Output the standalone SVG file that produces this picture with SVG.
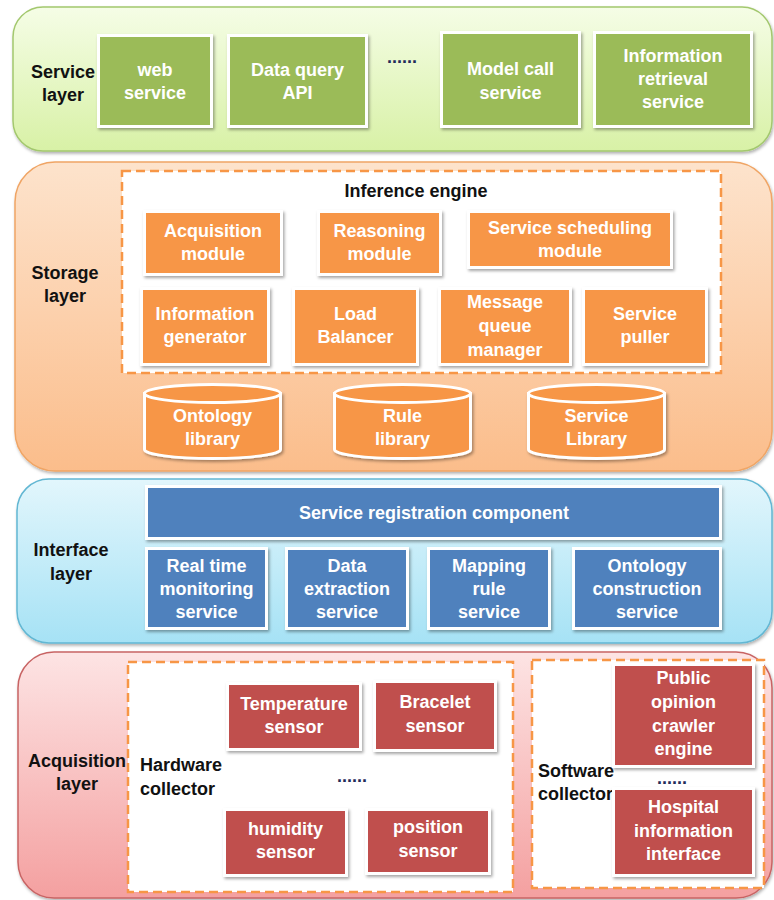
<svg xmlns="http://www.w3.org/2000/svg" width="774" height="900" viewBox="0 0 774 900">
  <defs>
    <linearGradient id="gService" x1="0" y1="0" x2="0" y2="1">
      <stop offset="0" stop-color="#f5fde6"/>
      <stop offset="1" stop-color="#d8f1a6"/>
    </linearGradient>
    <linearGradient id="gStorage" x1="0" y1="0" x2="0" y2="1">
      <stop offset="0" stop-color="#fde3cc"/>
      <stop offset="1" stop-color="#fbbd8b"/>
    </linearGradient>
    <linearGradient id="gInterface" x1="0" y1="0" x2="0" y2="1">
      <stop offset="0" stop-color="#e2f6fc"/>
      <stop offset="1" stop-color="#a6e2f5"/>
    </linearGradient>
    <linearGradient id="gAcq" x1="0" y1="0" x2="0" y2="1">
      <stop offset="0" stop-color="#fde4e4"/>
      <stop offset="1" stop-color="#f4a0a0"/>
    </linearGradient>
    <filter id="sh" x="-10%" y="-10%" width="125%" height="130%">
      <feDropShadow dx="1.5" dy="2" stdDeviation="1.5" flood-color="#000" flood-opacity="0.35"/>
    </filter>
    <filter id="lsh" x="-5%" y="-5%" width="110%" height="115%">
      <feDropShadow dx="1" dy="2" stdDeviation="1.5" flood-color="#000" flood-opacity="0.3"/>
    </filter>
  </defs>
  <style>
    text { font-family: "Liberation Sans", Arial, sans-serif; font-weight: bold; font-size: 18px; }
    .w { fill: #ffffff; text-anchor: middle; }
    .lbl { fill: #111111; text-anchor: middle; }
    .lft { fill: #111111; text-anchor: start; }
    .dots { fill: #1f2d5a; text-anchor: middle; }
    .box { stroke: #ffffff; stroke-width: 3; filter: url(#sh); }
    .green { fill: #9bbb59; }
    .orange { fill: #f79646; }
    .blue { fill: #4f81bd; }
    .red { fill: #c0504d; }
    .dash { fill: #ffffff; stroke: #f79646; stroke-width: 2.5; stroke-dasharray: 9 5; }
  </style>

  <!-- ===== Service layer ===== -->
  <g id="service-layer">
    <rect x="13" y="7" width="759" height="144" rx="30" fill="url(#gService)" stroke="#a3c86e" stroke-width="1.5" filter="url(#lsh)"/>
    <text class="lbl" x="63" y="78">Service</text>
    <text class="lbl" x="63" y="101">layer</text>
  </g>
  <g id="web-service">
    <rect class="box green" x="98.5" y="35.5" width="113" height="91"/>
    <text class="w" x="155" y="76">web</text>
    <text class="w" x="155" y="99">service</text>
  </g>
  <g id="data-query-api">
    <rect class="box green" x="228.5" y="35.5" width="138" height="91"/>
    <text class="w" x="297.5" y="76">Data query</text>
    <text class="w" x="297.5" y="99">API</text>
  </g>
  <text class="dots" x="402" y="63">......</text>
  <g id="model-call-service">
    <rect class="box green" x="441.5" y="32.5" width="138" height="94"/>
    <text class="w" x="510.5" y="75">Model call</text>
    <text class="w" x="510.5" y="99">service</text>
  </g>
  <g id="information-retrieval-service">
    <rect class="box green" x="594.5" y="32.5" width="157" height="94"/>
    <text class="w" x="673" y="62">Information</text>
    <text class="w" x="673" y="85">retrieval</text>
    <text class="w" x="673" y="108">service</text>
  </g>

  <!-- ===== Storage layer ===== -->
  <g id="storage-layer">
    <rect x="15" y="162" width="757" height="309" rx="40" fill="url(#gStorage)" stroke="#f0a565" stroke-width="1.5" filter="url(#lsh)"/>
    <text class="lbl" x="65" y="279">Storage</text>
    <text class="lbl" x="65" y="302">layer</text>
  </g>
  <g id="inference-engine">
    <rect class="dash" x="122" y="171" width="599" height="202"/>
    <text class="lbl" x="416" y="197" fill="#000">Inference engine</text>
  </g>
  <g id="acquisition-module">
    <rect class="box orange" x="144.5" y="211.5" width="137" height="63"/>
    <text class="w" x="213" y="237">Acquisition</text>
    <text class="w" x="213" y="260">module</text>
  </g>
  <g id="reasoning-module">
    <rect class="box orange" x="318.5" y="211.5" width="122" height="63"/>
    <text class="w" x="379.5" y="237">Reasoning</text>
    <text class="w" x="379.5" y="260">module</text>
  </g>
  <g id="service-scheduling-module">
    <rect class="box orange" x="468.5" y="211.5" width="203" height="56"/>
    <text class="w" x="570" y="234">Service scheduling</text>
    <text class="w" x="570" y="257">module</text>
  </g>
  <g id="information-generator">
    <rect class="box orange" x="141.5" y="288.5" width="127" height="76"/>
    <text class="w" x="205" y="320">Information</text>
    <text class="w" x="205" y="343">generator</text>
  </g>
  <g id="load-balancer">
    <rect class="box orange" x="293.5" y="288.5" width="124" height="76"/>
    <text class="w" x="355.5" y="320">Load</text>
    <text class="w" x="355.5" y="343">Balancer</text>
  </g>
  <g id="message-queue-manager">
    <rect class="box orange" x="439.5" y="288.5" width="131" height="76"/>
    <text class="w" x="505" y="308">Message</text>
    <text class="w" x="505" y="332">queue</text>
    <text class="w" x="505" y="356">manager</text>
  </g>
  <g id="service-puller">
    <rect class="box orange" x="583.5" y="288.5" width="123" height="76"/>
    <text class="w" x="645" y="320">Service</text>
    <text class="w" x="645" y="343">puller</text>
  </g>
  <g id="ontology-library">
    <path class="box orange" d="M144.5 393.5 L144.5 449.5 A68 9 0 0 0 280.5 449.5 L280.5 393.5 Z"/>
    <ellipse cx="212.5" cy="393.5" rx="68" ry="9" fill="#f79646" stroke="#ffffff" stroke-width="3"/>
    <text class="w" x="212.5" y="422">Ontology</text>
    <text class="w" x="212.5" y="445">library</text>
  </g>
  <g id="rule-library">
    <path class="box orange" d="M334.5 393.5 L334.5 449.5 A68 9 0 0 0 470.5 449.5 L470.5 393.5 Z"/>
    <ellipse cx="402.5" cy="393.5" rx="68" ry="9" fill="#f79646" stroke="#ffffff" stroke-width="3"/>
    <text class="w" x="402.5" y="422">Rule</text>
    <text class="w" x="402.5" y="445">library</text>
  </g>
  <g id="service-library">
    <path class="box orange" d="M528.5 393.5 L528.5 449.5 A68 9 0 0 0 664.5 449.5 L664.5 393.5 Z"/>
    <ellipse cx="596.5" cy="393.5" rx="68" ry="9" fill="#f79646" stroke="#ffffff" stroke-width="3"/>
    <text class="w" x="596.5" y="422">Service</text>
    <text class="w" x="596.5" y="445">Library</text>
  </g>

  <!-- ===== Interface layer ===== -->
  <g id="interface-layer">
    <rect x="17" y="479" width="755" height="164" rx="32" fill="url(#gInterface)" stroke="#62b7d3" stroke-width="1.5" filter="url(#lsh)"/>
    <text class="lbl" x="71" y="556">Interface</text>
    <text class="lbl" x="71" y="580">layer</text>
  </g>
  <g id="service-registration-component">
    <rect class="box blue" x="146.5" y="486.5" width="574" height="52"/>
    <text class="w" x="434" y="519">Service registration component</text>
  </g>
  <g id="real-time-monitoring-service">
    <rect class="box blue" x="146.5" y="548.5" width="120" height="80"/>
    <text class="w" x="206.5" y="572">Real time</text>
    <text class="w" x="206.5" y="595">monitoring</text>
    <text class="w" x="206.5" y="618">service</text>
  </g>
  <g id="data-extraction-service">
    <rect class="box blue" x="286.5" y="548.5" width="121" height="80"/>
    <text class="w" x="347" y="572">Data</text>
    <text class="w" x="347" y="595">extraction</text>
    <text class="w" x="347" y="618">service</text>
  </g>
  <g id="mapping-rule-service">
    <rect class="box blue" x="428.5" y="548.5" width="121" height="80"/>
    <text class="w" x="489" y="572">Mapping</text>
    <text class="w" x="489" y="595">rule</text>
    <text class="w" x="489" y="618">service</text>
  </g>
  <g id="ontology-construction-service">
    <rect class="box blue" x="573.5" y="548.5" width="147" height="80"/>
    <text class="w" x="647" y="572">Ontology</text>
    <text class="w" x="647" y="595">construction</text>
    <text class="w" x="647" y="618">service</text>
  </g>

  <!-- ===== Acquisition layer ===== -->
  <g id="acquisition-layer">
    <rect x="18" y="652" width="754" height="246" rx="36" fill="url(#gAcq)" stroke="#c86464" stroke-width="1.5" filter="url(#lsh)"/>
    <text class="lbl" x="77" y="767">Acquisition</text>
    <text class="lbl" x="77" y="790">layer</text>
  </g>
  <g id="hardware-collector">
    <rect class="dash" x="128" y="662" width="385" height="230"/>
    <text class="lft" x="140" y="771">Hardware</text>
    <text class="lft" x="140" y="795">collector</text>
    <text class="dots" x="352" y="782">......</text>
  </g>
  <g id="temperature-sensor">
    <rect class="box red" x="227.5" y="683.5" width="133" height="66"/>
    <text class="w" x="294" y="710">Temperature</text>
    <text class="w" x="294" y="733">sensor</text>
  </g>
  <g id="bracelet-sensor">
    <rect class="box red" x="374.5" y="681.5" width="121" height="69"/>
    <text class="w" x="435" y="708">Bracelet</text>
    <text class="w" x="435" y="732">sensor</text>
  </g>
  <g id="humidity-sensor">
    <rect class="box red" x="224.5" y="809.5" width="122" height="66"/>
    <text class="w" x="285.5" y="835">humidity</text>
    <text class="w" x="285.5" y="858">sensor</text>
  </g>
  <g id="position-sensor">
    <rect class="box red" x="366.5" y="809.5" width="123" height="64"/>
    <text class="w" x="428" y="833">position</text>
    <text class="w" x="428" y="857">sensor</text>
  </g>
  <g id="software-collector">
    <rect class="dash" x="532" y="660" width="232" height="228"/>
    <text class="lft" x="538" y="777">Software</text>
    <text class="lft" x="538" y="800">collector</text>
    <text class="dots" x="672" y="784">......</text>
  </g>
  <g id="public-opinion-crawler-engine">
    <rect class="box red" x="613.5" y="664.5" width="140" height="102"/>
    <text class="w" x="683.5" y="684">Public</text>
    <text class="w" x="683.5" y="708">opinion</text>
    <text class="w" x="683.5" y="732">crawler</text>
    <text class="w" x="683.5" y="755">engine</text>
  </g>
  <g id="hospital-information-interface">
    <rect class="box red" x="613.5" y="788.5" width="140" height="87"/>
    <text class="w" x="683.5" y="813">Hospital</text>
    <text class="w" x="683.5" y="837">information</text>
    <text class="w" x="683.5" y="860">interface</text>
  </g>

  <!-- no connectors are drawn between the layers -->
  <g id="connectors"/>
</svg>
